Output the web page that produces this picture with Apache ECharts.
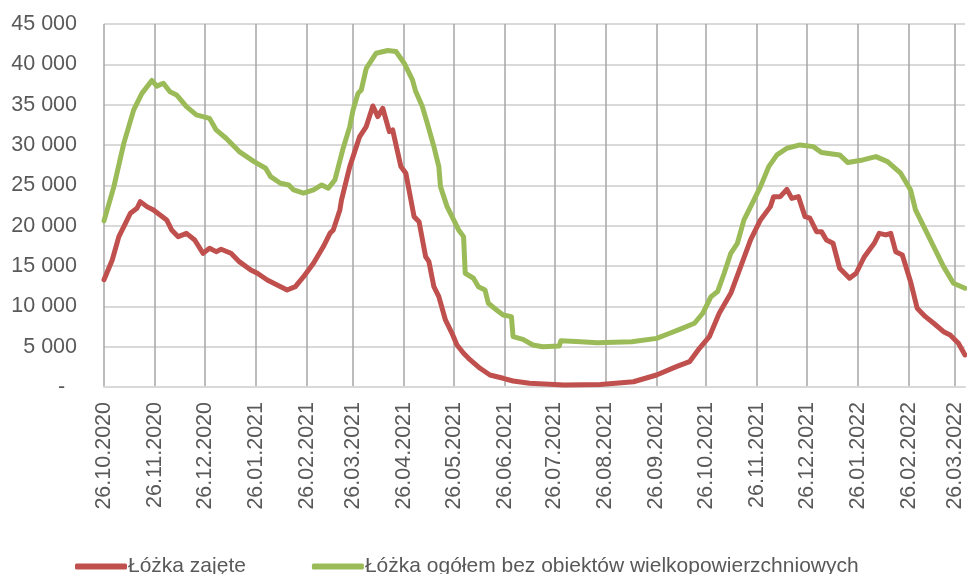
<!DOCTYPE html>
<html>
<head>
<meta charset="utf-8">
<script src="https://cdn.jsdelivr.net/npm/echarts@6/dist/echarts.min.js"></script>
<style>
  html, body { margin: 0; padding: 0; background: #fff; }
  #main { width: 967px; height: 574px; }
</style>
</head>
<body>
<div id="main"></div>
<script>
// Series names
var seriesNames = ['Łóżka zajęte', 'Łóżka ogółem bez obiektów wielkopowierzchniowych'];

// Y axis tick values
var yTicks = [0, 5000, 10000, 15000, 20000, 25000, 30000, 35000, 40000, 45000];

// Days counted from 26.10.2020, with the value read at that day
var redDays = [0, 5, 9, 13, 16, 20, 22, 26, 30, 34, 38, 41, 45, 50, 55, 60, 64, 68, 71, 77, 82, 89, 93, 99, 105, 111, 116, 121, 127, 133, 137, 139, 143, 144, 147, 149, 151, 155, 159, 163, 166, 169, 173, 175, 180, 183, 188, 191, 195, 197, 200, 203, 207, 211, 214, 218, 221, 228, 234, 242, 248, 258, 279, 301, 321, 335, 347, 355, 361, 367, 373, 380, 386, 392, 398, 404, 406, 410, 414, 417, 421, 425, 428, 432, 435, 438, 442, 446, 452, 456, 461, 467, 470, 474, 477, 480, 484, 489, 493, 498, 503, 509, 513, 518, 522];
var redValues = [13300, 15750, 18640, 20290, 21540, 22160, 22980, 22360, 21950, 21330, 20710, 19470, 18640, 19050, 18230, 16580, 17200, 16780, 17070, 16580, 15540, 14510, 14100, 13270, 12650, 12030, 12440, 13680, 15340, 17410, 19050, 19470, 21950, 23190, 25670, 27320, 28560, 31050, 32280, 34840, 33520, 34550, 31660, 31870, 27320, 26500, 21120, 20500, 16160, 15540, 12440, 11200, 8310, 6660, 5210, 4180, 3560, 2320, 1490, 1080, 740, 460, 250, 300, 650, 1490, 2520, 3140, 4800, 6240, 9140, 11620, 14920, 18230, 20710, 22360, 23600, 23600, 24500, 23380, 23600, 21120, 20920, 19260, 19260, 18230, 17820, 14720, 13480, 14100, 16160, 17820, 19050, 18850, 19050, 16780, 16370, 13060, 9760, 8720, 7900, 6860, 6450, 5420, 3970];

var greenDays = [0, 6, 12, 18, 23, 29, 32, 36, 40, 44, 50, 56, 64, 68, 74, 82, 91, 98, 101, 107, 112, 115, 121, 127, 132, 136, 140, 145, 149, 151, 154, 156, 159, 165, 172, 177, 182, 187, 189, 193, 196, 200, 203, 204, 208, 212, 215, 218, 219, 224, 227, 231, 233, 238, 242, 247, 248, 254, 260, 266, 276, 277, 289, 299, 320, 335, 343, 349, 358, 363, 368, 372, 376, 380, 384, 388, 393, 398, 403, 408, 414, 422, 430, 435, 446, 451, 460, 468, 475, 483, 489, 492, 498, 503, 509, 515, 522];
var greenValues = [20600, 24840, 30200, 34350, 36400, 38000, 37300, 37650, 36600, 36200, 34750, 33730, 33300, 31870, 30840, 29180, 27940, 27120, 26080, 25260, 25050, 24430, 24020, 24430, 25050, 24640, 25670, 29600, 32280, 34350, 36400, 36830, 39500, 41380, 41710, 41590, 40140, 38080, 36620, 34760, 32690, 29800, 27320, 24840, 22360, 20710, 19470, 18640, 14100, 13480, 12440, 12030, 10380, 9550, 8930, 8720, 6240, 5910, 5210, 5000, 5080, 5740, 5620, 5500, 5620, 6030, 6660, 7150, 7900, 9140, 11200, 11830, 14100, 16580, 17820, 20710, 22770, 24840, 27320, 28770, 29600, 30010, 29800, 29060, 28770, 27820, 28150, 28560, 27940, 26500, 24430, 21950, 19470, 17410, 14920, 12860, 12240];

// Daily categories from 26.10.2020
var dayCount = 523;

function pad(n) {
  return n < 10 ? '0' + n : '' + n;
}

function buildDates() {
  var list = [], i, d;
  for (i = 0; i < dayCount; i++) {
    d = new Date(2020, 9, 26 + i);
    list.push(pad(d.getDate()) + '.' + pad(d.getMonth() + 1) + '.' + d.getFullYear());
  }
  return list;
}

function toPairs(days, values) {
  return days.map(function (d, i) { return [d, values[i]]; });
}

function isMonthTick(index, value) {
  return value.slice(0, 3) === '26.';
}

var dates = buildDates();
var myChart = echarts.init(document.getElementById('main'));

var option = {
  animation: false,
  color: ['#C0504D', '#9BBB59'],
  grid: {
    left: 104,
    right: 2,
    top: 24,
    bottom: 187
  },
  legend: {
    left: 70,
    top: 551,
    itemGap: 66,
    itemWidth: 52,
    itemHeight: 6,
    icon: 'roundRect',
    textStyle: {
      fontFamily: '"Liberation Sans Narrow", "Liberation Sans", Arial',
      fontSize: 21,
      color: '#595959',
      padding: [0, 0, 0, -4]
    },
    data: seriesNames
  },
  xAxis: {
    type: 'category',
    boundaryGap: false,
    data: dates,
    axisLine: { lineStyle: { color: '#D9D9D9', width: 2 } },
    axisTick: { show: false },
    axisLabel: {
      interval: isMonthTick,
      rotate: 90,
      margin: 15,
      color: '#595959',
      fontFamily: '"Liberation Sans", Arial',
      fontSize: 21.5
    },
    splitLine: {
      show: true,
      interval: isMonthTick,
      lineStyle: { color: '#A6A6A6', width: 1.5 }
    }
  },
  yAxis: {
    type: 'value',
    min: yTicks[0],
    max: yTicks[yTicks.length - 1],
    interval: 5000,
    axisLine: { show: false },
    axisTick: { show: false },
    axisLabel: {
      margin: 27,
      color: '#595959',
      fontFamily: '"Liberation Sans", Arial',
      fontSize: 21.5,
      formatter: function (v) {
        if (v === 0) {
          return '-  ';
        }
        return String(v).replace(/\B(?=(\d{3})+(?!\d))/g, ' ');
      }
    },
    splitLine: { lineStyle: { color: '#D9D9D9', width: 2 } }
  },
  series: [
    {
      name: seriesNames[0],
      type: 'line',
      showSymbol: false,
      data: toPairs(redDays, redValues),
      lineStyle: { width: 5, cap: 'round', join: 'round' }
    },
    {
      name: seriesNames[1],
      type: 'line',
      showSymbol: false,
      data: toPairs(greenDays, greenValues),
      lineStyle: { width: 5, cap: 'round', join: 'round' }
    }
  ]
};

myChart.setOption(option);
</script>
</body>
</html>
